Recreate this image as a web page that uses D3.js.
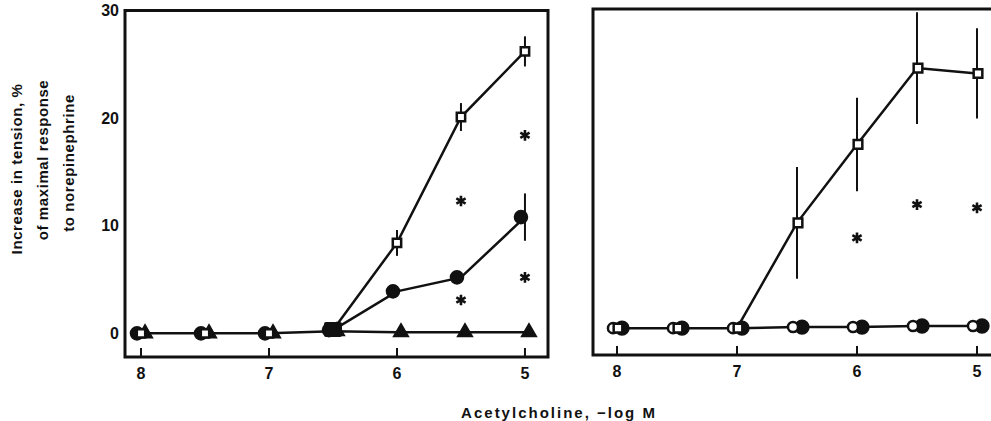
<!DOCTYPE html>
<html>
<head>
<meta charset="utf-8">
<script src="https://cdn.jsdelivr.net/npm/d3@7"></script>
<style>
  body { margin: 0; background: #fff; }
  text { font-family: "Liberation Sans", Arial, sans-serif; font-weight: bold; fill: #111; }
</style>
</head>
<body>
<svg id="chart"></svg>
<script>
let w = 991,
    h = 421;

// Data (x = acetylcholine, -log M)
let doses = [8, 7.5, 7, 6.5, 6, 5.5, 5];
let xTicks = [8, 7, 6, 5];
let yTicks = [0, 10, 20, 30];

// Left panel
let leftSquares = [0, 0, 0, 0.3, 8.4, 20.1, 26.2];
let leftSquaresErr = [0, 0, 0, 0, 1.2, 1.3, 1.4];
let leftCircles = [0, 0, 0, 0.3, 3.9, 5.2, 10.8];
let leftCirclesErr = [0, 0, 0, 0, 0, 0, 2.2];
let leftTriangles = [0, 0, 0, 0.2, 0.1, 0.1, 0.1];
let leftSolid = [[6.5, 0.3]];
let leftStars = [[5.5, 12.3], [5.5, 3.1], [5, 18.4], [5, 5.2]];

// Right panel
let rightSquares = [0.3, 0.3, 0.3, 10.1, 17.4, 24.5, 24.0];
let rightSquaresErr = [0, 0, 0, 5.2, 4.35, 5.2, 4.2];
let rightCircles = [0.3, 0.3, 0.3, 0.4, 0.4, 0.5, 0.5];
let rightStars = [[6, 8.7], [5.5, 11.8], [5, 11.5]];

let yTitle = ["Increase in tension, %", "of maximal response", "to norepinephrine"];
let xTitle = "Acetylcholine, \u2212log M";

let svg = d3.select("#chart")
    .attr("width", w)
    .attr("height", h)
    .attr("viewBox", [0, 0, w, h]);

// Scales
let xL = d3.scaleLinear().domain([8.125, 4.82]).range([125, 548]);
let xR = d3.scaleLinear().domain([8.2, 4.8]).range([593, 1001]);
let yL = d3.scaleLinear().domain([-2.2, 30]).range([357, 10.5]);
let yR = d3.scaleLinear().domain([-2.2, 30]).range([355, 9]);

function frame(x, y) {
  let [x0, x1] = x.range(), [y0, y1] = y.range();
  svg.append("rect")
    .attr("x", x0).attr("y", y1)
    .attr("width", x1 - x0).attr("height", y0 - y1)
    .attr("fill", "none").attr("stroke", "#111").attr("stroke-width", 3);
  // ticks pointing up from the bottom axis
  svg.append("g").selectAll("line").data(xTicks).join("line")
    .attr("x1", d => x(d)).attr("x2", d => x(d))
    .attr("y1", y0).attr("y2", y0 - 9)
    .attr("stroke", "#111").attr("stroke-width", 2);
  svg.append("g").selectAll("text").data(xTicks).join("text")
    .attr("x", d => x(d)).attr("y", y0 + 22)
    .attr("text-anchor", "middle")
    .attr("font-size", 16)
    .text(d => d);
}

function errBars(x, y, vals, errs) {
  let pts = doses.map((d, i) => [d, vals[i], errs[i]]).filter(p => p[2] > 0);
  svg.append("g").selectAll("line").data(pts).join("line")
    .attr("x1", p => x(p[0])).attr("x2", p => x(p[0]))
    .attr("y1", p => y(p[1] - p[2]))
    .attr("y2", p => y(p[1] + p[2]))
    .attr("stroke", "#111").attr("stroke-width", 2);
}

function seriesLine(x, y, vals, from) {
  let pts = doses.map((d, i) => [d, vals[i]]).filter(p => p[0] <= from);
  svg.append("path")
    .attr("d", d3.line().x(p => x(p[0])).y(p => y(p[1]))(pts))
    .attr("fill", "none").attr("stroke", "#111").attr("stroke-width", 2.5);
}

function marks(x, y, vals, type, dx, fill, size, skip) {
  let pts = doses.map((d, i) => [d, vals[i]]).filter(p => !skip || !skip.includes(p[0]));
  svg.append("g").selectAll("path").data(pts).join("path")
    .attr("transform", p => `translate(${x(p[0]) + dx},${y(p[1])})`)
    .attr("d", d3.symbol(type, size))
    .attr("fill", fill).attr("stroke", "#111").attr("stroke-width", 2.5);
}

function stars(x, y, data) {
  svg.append("g").selectAll("path").data(data).join("path")
    .attr("transform", d => `translate(${x(d[0])},${y(d[1])})`)
    .attr("d", d3.symbol(d3.symbolAsterisk, 80))
    .attr("fill", "none").attr("stroke", "#111").attr("stroke-width", 2.6);
}

// ---------- Left panel
frame(xL, yL);
svg.append("g").selectAll("text").data(yTicks).join("text")
  .attr("x", 119).attr("y", d => yL(d))
  .attr("dy", "0.36em")
  .attr("text-anchor", "end")
  .attr("font-size", 16)
  .text(d => d);

errBars(xL, yL, leftSquares, leftSquaresErr);
errBars(xL, yL, leftCircles, leftCirclesErr);
seriesLine(xL, yL, leftTriangles, 8);
seriesLine(xL, yL, leftCircles, 6.5);
seriesLine(xL, yL, leftSquares, 6.5);
marks(xL, yL, leftCircles, d3.symbolCircle, -4, "#111", 115);
marks(xL, yL, leftTriangles, d3.symbolTriangle, 4, "#111", 75);
svg.append("g").selectAll("rect").data(leftSolid).join("rect")
  .attr("x", d => xL(d[0]) - 9).attr("y", d => yL(d[1]) - 8)
  .attr("width", 18).attr("height", 15).attr("rx", 2).attr("fill", "#111");
marks(xL, yL, leftSquares, d3.symbolSquare, 0, "#fff", 70, [6.5]);
stars(xL, yL, leftStars);

// ---------- Right panel
frame(xR, yR);
errBars(xR, yR, rightSquares, rightSquaresErr);
seriesLine(xR, yR, rightCircles, 8);
seriesLine(xR, yR, rightSquares, 7);
marks(xR, yR, rightCircles, d3.symbolCircle, 5, "#111", 130);
marks(xR, yR, rightCircles, d3.symbolCircle, -4, "#fff", 80);
marks(xR, yR, rightSquares, d3.symbolSquare, 1, "#fff", 75);
stars(xR, yR, rightStars);

// ---------- Axis titles
svg.append("g").selectAll("text").data(yTitle).join("text")
  .attr("transform", (d, i) => `translate(${22 + i * 26},${[169, 160, 163][i]}) rotate(-90)`)
  .attr("text-anchor", "middle")
  .attr("font-size", 15)
  .attr("letter-spacing", 0.6)
  .text(d => d);

svg.append("text")
  .attr("x", 559).attr("y", 418)
  .attr("text-anchor", "middle")
  .attr("font-size", 15)
  .attr("letter-spacing", 2)
  .text(xTitle);
</script>
</body>
</html>
